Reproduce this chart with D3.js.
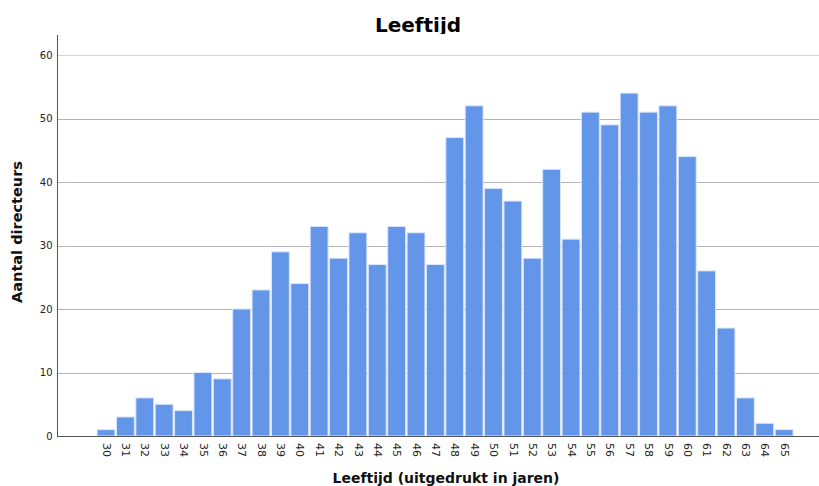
<!DOCTYPE html>
<html>
<head>
<meta charset="utf-8">
<script src="https://cdn.jsdelivr.net/npm/d3@7"></script>
<style>
  body { margin: 0; background: #fff; }
  text { font-family: 'DejaVu Sans', sans-serif; }
</style>
</head>
<body>
<div id="chart"></div>
<script>
// Data
var ages = [30, 31, 32, 33, 34, 35, 36, 37, 38, 39, 40, 41, 42, 43, 44, 45, 46, 47,
  48, 49, 50, 51, 52, 53, 54, 55, 56, 57, 58, 59, 60, 61, 62, 63, 64, 65]
var counts = [1, 3, 6, 5, 4, 10, 9, 20, 23, 29, 24, 33, 28, 32, 27, 33, 32, 27,
  47, 52, 39, 37, 28, 42, 31, 51, 49, 54, 51, 52, 44, 26, 17, 6, 2, 1]
var yTicks = [0, 10, 20, 30, 40, 50, 60]

var width = 819
var height = 486
var plotLeft = 57
var plotRight = 819
var plotTop = 35
var plotBottom = 436

var svg = d3.select('#chart')
  .append('svg')
  .attr('width', width)
  .attr('height', height)

var x = d3.scaleLinear()
  .domain([27.47, 66.8])
  .range([plotLeft, plotRight])

var y = d3.scaleLinear()
  .domain([0, 60])
  .range([plotBottom, 55])

var bw = x(31) - x(30) - 1.5

// gridlines
svg.selectAll('.grid')
  .data(yTicks.filter(function (d) { return d > 0 }))
  .enter()
  .append('line')
  .attr('x1', plotLeft)
  .attr('x2', plotRight)
  .attr('y1', function (d) { return Math.round(y(d)) + 0.5 })
  .attr('y2', function (d) { return Math.round(y(d)) + 0.5 })
  .style('stroke', function (d) { return d === 60 ? '#d4d4d4' : '#b4b4b4' })
  .style('stroke-width', 1)

// bars
svg.selectAll('.bar')
  .data(ages)
  .enter()
  .append('rect')
  .attr('x', function (d) { return x(d) - bw / 2 })
  .attr('width', bw)
  .attr('y', function (d, i) { return y(counts[i]) })
  .attr('height', function (d, i) { return plotBottom - y(counts[i]) })
  .style('fill', '#6395e9')
  .style('stroke', '#dbe6fa')
  .style('stroke-width', 1)

// y axis
var yAxis = d3.axisLeft(y)
  .tickValues(yTicks)
  .tickSize(0)
  .tickPadding(5)

var gy = svg.append('g')
  .attr('transform', 'translate(' + (plotLeft + 0.5) + ',0)')
  .call(yAxis)
gy.select('.domain').remove()
gy.selectAll('text')
  .attr('font-size', '10px')
  .attr('fill', '#222')

svg.append('line')
  .attr('x1', plotLeft + 0.5)
  .attr('x2', plotLeft + 0.5)
  .attr('y1', plotTop)
  .attr('y2', plotBottom)
  .style('stroke', '#555')

// x axis
var xAxis = d3.axisBottom(x)
  .tickValues(ages)
  .tickFormat(d3.format('d'))
  .tickSize(0)

var gx = svg.append('g')
  .attr('transform', 'translate(0,' + plotBottom + ')')
  .call(xAxis)
gx.select('.domain').remove()
gx.selectAll('text')
  .attr('font-size', '11px')
  .attr('fill', '#222')
  .attr('transform', 'rotate(90)')
  .attr('x', 7)
  .attr('y', 0)
  .attr('dy', '0.35em')
  .style('text-anchor', 'start')

svg.append('line')
  .attr('x1', plotLeft)
  .attr('x2', plotRight)
  .attr('y1', plotBottom + 0.5)
  .attr('y2', plotBottom + 0.5)
  .style('stroke', '#555')

// titles
svg.append('clipPath')
  .attr('id', 'titleclip')
  .append('rect')
  .attr('x', 0)
  .attr('y', 0)
  .attr('width', width)
  .attr('height', 34)

svg.append('text')
  .attr('clip-path', 'url(#titleclip)')
  .attr('x', 418)
  .attr('y', 32)
  .attr('text-anchor', 'middle')
  .attr('font-size', '20px')
  .attr('font-weight', 'bold')
  .attr('fill', '#000')
  .text('Leeftijd')

svg.append('text')
  .attr('x', 446)
  .attr('y', 483)
  .attr('text-anchor', 'middle')
  .attr('font-size', '14px')
  .attr('font-weight', 'bold')
  .attr('fill', '#111')
  .text('Leeftijd (uitgedrukt in jaren)')

svg.append('text')
  .attr('transform', 'translate(22,232) rotate(-90)')
  .attr('text-anchor', 'middle')
  .attr('font-size', '14.5px')
  .attr('font-weight', 'bold')
  .attr('fill', '#111')
  .text('Aantal directeurs')
</script>
</body>
</html>
